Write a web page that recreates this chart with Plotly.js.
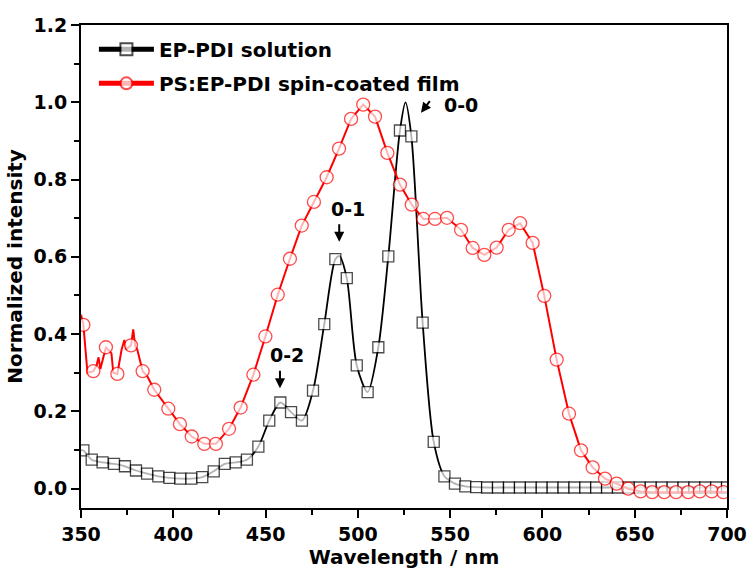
<!DOCTYPE html>
<html>
<head>
<meta charset="utf-8">
<script src="https://cdn.plot.ly/plotly-3.0.1.min.js"></script>
<style>
html,body{margin:0;padding:0;background:#fff;}
#chart{width:752px;height:573px;}
</style>
</head>
<body>
<div id="chart"></div>
<script>
// EP-PDI solution (black squares); mark = 1 for plotted symbols, 0 for line-only points
var solWavelength = [350.0, 351.3, 355.8, 361.7, 367.9, 373.8, 379.8, 385.8, 391.9, 397.9, 403.8, 409.8, 415.7, 421.9, 427.9, 433.8, 439.9, 446.1, 452.0, 458.0, 463.8, 469.7, 475.7, 481.8, 487.8, 490.0, 494.0, 499.4, 505.3, 511.1, 516.5, 522.8, 525.8, 529.0, 535.1, 541.1, 546.9, 552.6, 558.2, 564.1, 570.0, 575.9, 581.9, 587.8, 593.7, 599.6, 605.5, 611.4, 617.3, 623.2, 629.1, 635.0, 640.9, 646.8, 652.7, 658.7, 664.6, 670.5, 676.4, 682.3, 688.2, 694.1, 700.0];
var solIntensity = [0.100, 0.099, 0.075, 0.068, 0.064, 0.058, 0.047, 0.039, 0.032, 0.028, 0.026, 0.026, 0.030, 0.045, 0.064, 0.068, 0.075, 0.109, 0.176, 0.223, 0.198, 0.176, 0.254, 0.426, 0.594, 0.602, 0.545, 0.319, 0.250, 0.366, 0.601, 0.927, 1.000, 0.912, 0.430, 0.121, 0.032, 0.013, 0.006, 0.004, 0.003, 0.003, 0.003, 0.003, 0.003, 0.003, 0.003, 0.003, 0.003, 0.003, 0.003, 0.003, 0.003, 0.003, 0.003, 0.003, 0.003, 0.003, 0.003, 0.003, 0.003, 0.003, 0.003];
var solMark = [0, 1, 1, 1, 1, 1, 1, 1, 1, 1, 1, 1, 1, 1, 1, 1, 1, 1, 1, 1, 1, 1, 1, 1, 1, 0, 1, 1, 1, 1, 1, 1, 0, 1, 1, 1, 1, 1, 1, 1, 1, 1, 1, 1, 1, 1, 1, 1, 1, 1, 1, 1, 1, 1, 1, 1, 1, 1, 1, 1, 1, 1, 1];

// PS:EP-PDI spin-coated film (red circles)
var filmWavelength = [350.0, 351.3, 353.5, 356.7, 358.5, 359.5, 360.5, 363.5, 366.5, 367.5, 369.7, 372.0, 373.5, 374.5, 377.1, 378.3, 379.3, 380.5, 383.4, 386.0, 389.7, 397.3, 403.6, 410.0, 416.8, 423.1, 430.2, 436.5, 443.4, 449.9, 456.6, 463.2, 469.6, 476.2, 483.1, 489.8, 496.3, 502.9, 509.3, 516.0, 522.8, 529.2, 535.5, 541.8, 548.3, 555.9, 562.2, 568.5, 575.2, 581.7, 587.9, 594.7, 601.0, 607.7, 614.4, 620.9, 627.2, 633.9, 640.2, 646.5, 653.2, 659.5, 666.0, 672.4, 679.0, 685.3, 691.7, 698.0, 700.0];
var filmIntensity = [0.450, 0.424, 0.300, 0.304, 0.320, 0.340, 0.310, 0.366, 0.350, 0.300, 0.297, 0.360, 0.385, 0.360, 0.371, 0.412, 0.370, 0.360, 0.304, 0.290, 0.256, 0.207, 0.167, 0.135, 0.116, 0.116, 0.155, 0.210, 0.295, 0.394, 0.502, 0.595, 0.681, 0.742, 0.806, 0.880, 0.957, 0.994, 0.963, 0.869, 0.787, 0.735, 0.698, 0.698, 0.701, 0.670, 0.623, 0.605, 0.624, 0.670, 0.687, 0.636, 0.499, 0.334, 0.194, 0.099, 0.055, 0.026, 0.013, 0.000, -0.007, -0.009, -0.009, -0.009, -0.009, -0.007, -0.007, -0.009, -0.009];
var filmMark = [0, 1, 0, 1, 0, 0, 0, 1, 0, 0, 1, 0, 0, 0, 1, 0, 0, 0, 1, 0, 1, 1, 1, 1, 1, 1, 1, 1, 1, 1, 1, 1, 1, 1, 1, 1, 1, 1, 1, 1, 1, 1, 1, 1, 1, 1, 1, 1, 1, 1, 1, 1, 1, 1, 1, 1, 1, 1, 1, 1, 1, 1, 1, 1, 1, 1, 1, 1, 0];

var seriesNames = ['EP-PDI solution', 'PS:EP-PDI spin-coated film'];
var peakLabels = ['0-0', '0-1', '0-2'];
var peakLabelPos = [[555.9, 0.994], [494.7, 0.724], [461.6, 0.345]];
var peakArrowTip = [[534.2, 0.973], [489.9, 0.639], [457.8, 0.260]];

var FONT = 'DejaVu Sans, Arial, sans-serif';

var traces = [
  {
    x: solWavelength, y: solIntensity, name: seriesNames[0],
    type: 'scatter', mode: 'lines+markers',
    line: {color: '#000000', width: 1.8, shape: 'spline', smoothing: 0.8},
    marker: {symbol: 'square', size: solMark.map(function(m){return m ? 11 : 0;}),
             color: '#ffffff', line: {color: '#000000', width: 1.3}},
    legendgroup: 'a'
  },
  {
    x: filmWavelength, y: filmIntensity, name: seriesNames[1],
    type: 'scatter', mode: 'lines+markers',
    line: {color: '#ff0000', width: 2},
    marker: {symbol: 'circle', size: filmMark.map(function(m){return m ? 13 : 0;}),
             color: '#ffffff', line: {color: '#ff0000', width: 1.3}},
    legendgroup: 'b'
  }
];

var annotations = [];
for (var i = 0; i < peakLabels.length; i++) {
  annotations.push({
    x: peakLabelPos[i][0], y: peakLabelPos[i][1], xref: 'x', yref: 'y',
    text: '<b>' + peakLabels[i] + '</b>', showarrow: false,
    font: {family: FONT, size: 19, color: '#000'}
  });
  var vx = (i === 0) ? 10 : 0;
  var vy = (i === 0) ? -13 : -19;
  annotations.push({
    x: peakArrowTip[i][0], y: peakArrowTip[i][1], xref: 'x', yref: 'y',
    text: '', showarrow: true, arrowhead: 2, arrowsize: 1, arrowwidth: 2,
    arrowcolor: '#000', ax: vx, ay: vy, standoff: 0
  });
}

var layout = {
  width: 752, height: 573,
  margin: {l: 81, r: 25, t: 25, b: 65},
  paper_bgcolor: '#ffffff', plot_bgcolor: '#ffffff',
  showlegend: true,
  legend: {x: 0.02, y: 0.99, xanchor: 'left', yanchor: 'top',
           bgcolor: 'rgba(0,0,0,0)', itemsizing: 'constant', itemwidth: 55,
           tracegroupgap: 5,
           font: {family: FONT, size: 20, color: '#000', weight: 'bold'}},
  xaxis: {
    range: [350, 700], showgrid: false, zeroline: false,
    showline: true, linecolor: '#000', linewidth: 2, mirror: true,
    ticks: 'outside', ticklen: 8, tickwidth: 2, tickcolor: '#000',
    tickvals: [350, 400, 450, 500, 550, 600, 650, 700],
    minor: {tickvals: [375, 425, 475, 525, 575, 625, 675], ticks: 'outside', ticklen: 5, tickwidth: 2, tickcolor: '#000'},
    tickfont: {family: FONT, size: 19, color: '#000', weight: 'bold'},
    title: {text: '<b>Wavelength / nm</b>', font: {family: FONT, size: 20, color: '#000'}, standoff: 5}
  },
  yaxis: {
    range: [-0.05, 1.2], showgrid: false, zeroline: false,
    showline: true, linecolor: '#000', linewidth: 2, mirror: true,
    ticks: 'outside', ticklen: 8, tickwidth: 2, tickcolor: '#000',
    tickvals: [0, 0.2, 0.4, 0.6, 0.8, 1.0, 1.2],
    ticktext: ['0.0', '0.2', '0.4', '0.6', '0.8', '1.0', '1.2'],
    minor: {tickvals: [0.1, 0.3, 0.5, 0.7, 0.9, 1.1], ticks: 'outside', ticklen: 5, tickwidth: 2, tickcolor: '#000'},
    tickfont: {family: FONT, size: 19, color: '#000', weight: 'bold'},
    title: {text: '<b>Normalized intensity</b>', font: {family: FONT, size: 20, color: '#000'}, standoff: 6}
  },
  annotations: annotations
};

Plotly.newPlot('chart', traces, layout, {displayModeBar: false, staticPlot: true});
</script>
</body>
</html>
